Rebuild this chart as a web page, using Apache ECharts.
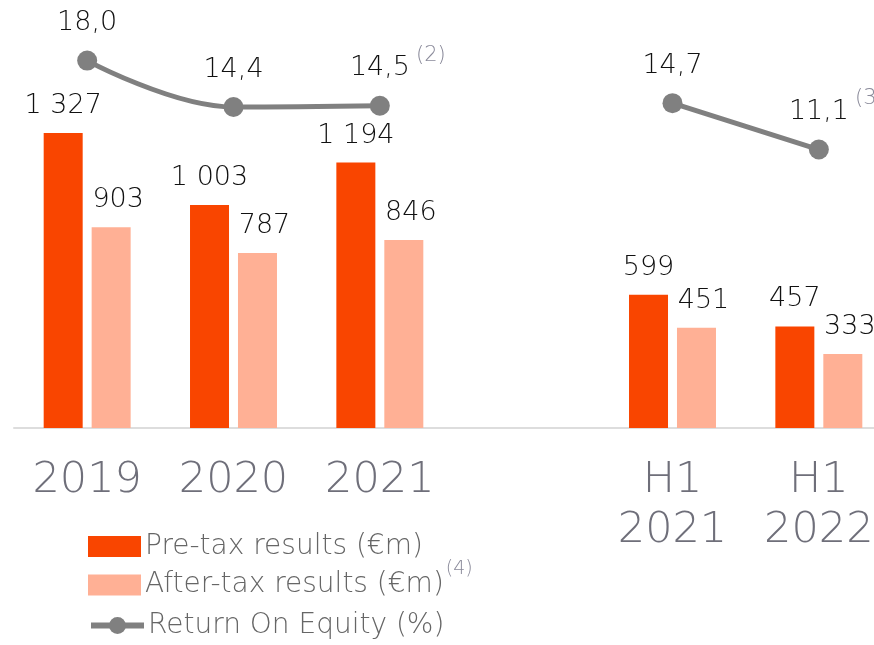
<!DOCTYPE html>
<html>
<head>
<meta charset="utf-8">
<script src="https://cdn.jsdelivr.net/npm/echarts@6/dist/echarts.min.js"></script>
<style>
  html, body { margin: 0; padding: 0; background: #fff; }
  #chart { width: 874px; height: 645px; }
</style>
</head>
<body>
<div id="chart"></div>
<script>
// periods (empty slot keeps the gap between full years and half years)
const periods = ['2019', '2020', '2021', '', 'H1\n2021', 'H1\n2022'];
const preTax = [1327, 1003, 1194, null, 599, 457];
const afterTax = [903, 787, 846, null, 451, 333];
const roe = [18.0, 14.4, 14.5, null, 14.7, 11.1];
const roeNotes = ['', '', '(2)', '', '', '(3)'];
const seriesNames = ['Pre-tax results (€m)', 'After-tax results (€m)', 'Return On Equity (%)'];
const legendNotes = ['', '(4)', ''];

const FONT = 'DejaVu Sans';
const LIGHT = 200;

// 1 327 style thousands, 14,5 style decimals
const fmtInt = v => String(v).replace(/\B(?=(\d{3})+(?!\d))/g, ' ');
const fmtDec = v => v.toFixed(1).replace('.', ',');

const chart = echarts.init(document.getElementById('chart'));

const barLabel = {
  show: true,
  position: 'top',
  distance: 12,
  color: '#111',
  fontFamily: FONT,
  fontWeight: LIGHT,
  fontSize: 27,
  lineHeight: 30,
  formatter: p => fmtInt(p.value)
};

// one legend per row so the superscript row can be tuned on its own
const legendTops = [532.5, 560, 611.5];
const legends = seriesNames.map((name, i) => ({
  orient: 'vertical',
  left: 88,
  top: legendTops[i],
  padding: 0,
  itemWidth: 53,
  itemHeight: 21,
  data: [i < 2 ? { name: name, icon: 'rect' } : { name: name, lineStyle: { width: 6 } }],
  formatter: n => legendNotes[i] ? '{t|' + n + '}{sup|' + legendNotes[i] + '}' : n,
  textStyle: {
    color: '#666',
    fontFamily: FONT,
    fontWeight: LIGHT,
    fontSize: 28,
    lineHeight: 21,
    padding: legendNotes[i] ? [7, 0, 0, -1] : [0, 0, 0, -1],
    rich: {
      t: { color: '#666', fontFamily: FONT, fontWeight: LIGHT, fontSize: 28, lineHeight: 21, verticalAlign: 'bottom' },
      sup: { color: '#8a8a9a', fontFamily: FONT, fontWeight: LIGHT, fontSize: 19, lineHeight: 21, padding: [0, 0, 20, 2], verticalAlign: 'bottom' }
    }
  }
}));

const option = {
  animation: false,
  grid: { left: 14, right: -18, top: 0, bottom: 217, outerBoundsMode: 'none' },
  legend: legends,
  xAxis: {
    type: 'category',
    data: periods,
    axisLine: { lineStyle: { color: '#dddddd', width: 2 } },
    axisTick: { show: false },
    axisLabel: {
      interval: 0,
      margin: 28,
      color: '#6f6f7a',
      fontFamily: FONT,
      fontWeight: LIGHT,
      fontSize: 43,
      lineHeight: 50
    }
  },
  yAxis: [
    { type: 'value', min: 0, max: 1925, show: false, splitLine: { show: false } },
    { type: 'value', min: -10.5, max: 22.7, show: false, splitLine: { show: false } }
  ],
  series: [
    {
      name: seriesNames[0],
      type: 'bar',
      data: preTax,
      barWidth: 39,
      barGap: '23%',
      itemStyle: { color: '#f94500' },
      label: barLabel
    },
    {
      name: seriesNames[1],
      type: 'bar',
      data: afterTax,
      barWidth: 39,
      itemStyle: { color: '#ffb095' },
      label: Object.assign({}, barLabel, { offset: [7, 0] })
    },
    {
      name: seriesNames[2],
      type: 'line',
      yAxisIndex: 1,
      smooth: 0.4,
      connectNulls: false,
      symbol: 'circle',
      symbolSize: 20,
      color: '#808080',
      lineStyle: { color: '#808080', width: 5 },
      itemStyle: { color: '#808080' },
      data: roe.map((v, i) => ({
        value: v,
        label: roeNotes[i] ? { offset: [18, 0] } : undefined
      })),
      label: {
        show: true,
        position: 'top',
        distance: 14,
        formatter: p => {
          const note = roeNotes[p.dataIndex];
          return '{v|' + fmtDec(p.value) + '}' + (note ? '{sup|' + note + '}' : '');
        },
        rich: {
          v: { color: '#111', fontFamily: FONT, fontWeight: LIGHT, fontSize: 27, lineHeight: 30, verticalAlign: 'bottom' },
          sup: { color: '#8a8a9a', fontFamily: FONT, fontWeight: LIGHT, fontSize: 21, lineHeight: 22, padding: [0, 0, 16, 6], verticalAlign: 'bottom' }
        }
      }
    }
  ]
};

chart.setOption(option);
</script>
</body>
</html>
